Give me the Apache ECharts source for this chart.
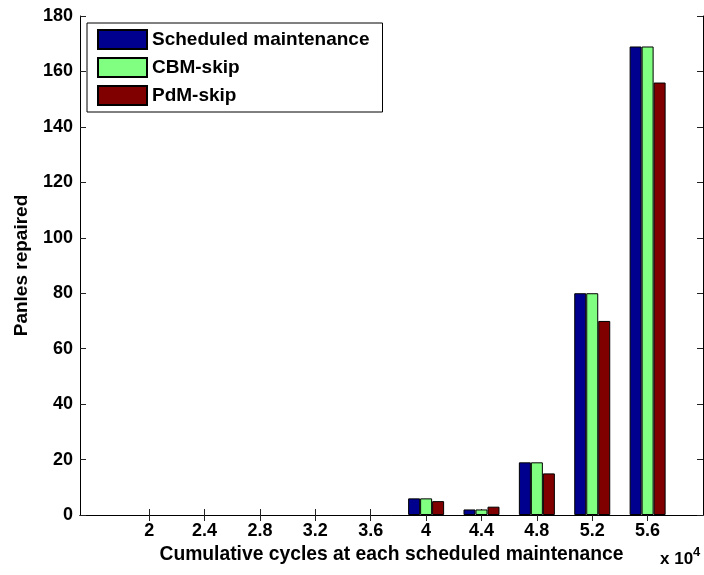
<!DOCTYPE html>
<html>
<head>
<meta charset="utf-8">
<script src="https://cdn.jsdelivr.net/npm/echarts@6/dist/echarts.min.js"></script>
<style>
html,body{margin:0;padding:0;background:#fff;}
#chart{width:704px;height:575px;}
</style>
</head>
<body>
<div id="chart"></div>
<script>
// ---- data ----
const categories = [2, 2.4, 2.8, 3.2, 3.6, 4, 4.4, 4.8, 5.2, 5.6];
const tickLabels = ['2', '2.4', '2.8', '3.2', '3.6', '4', '4.4', '4.8', '5.2', '5.6'];
const seriesNames = ['Scheduled maintenance', 'CBM-skip', 'PdM-skip'];
const scheduled = [0, 0, 0, 0, 0, 6, 2, 19, 80, 169];
const cbmSkip   = [0, 0, 0, 0, 0, 6, 2, 19, 80, 169];
const pdmSkip   = [0, 0, 0, 0, 0, 5, 3, 15, 70, 156];
const xMin = 1.5, xMax = 6.0;
const yMin = 0, yMax = 180, yStep = 20;

const FONT = 'Arial, "Liberation Sans", sans-serif';
const colors = ['#00008f', '#80ff80', '#800000'];

function pairs(vals) {
  return categories.map((c, i) => vals[i] === 0
    ? {value: [c, vals[i]], itemStyle: {borderWidth: 0, opacity: 0}}
    : {value: [c, vals[i]]});
}
function labelFor(v) {
  const i = categories.findIndex(c => Math.abs(c - v) < 1e-9);
  return i >= 0 ? tickLabels[i] : '';
}

const chart = echarts.init(document.getElementById('chart'), null, {renderer: 'canvas'});
const tickStyle = {show: true, inside: true, length: 6, lineStyle: {color: '#222', width: 1}};
const lineStyle = {show: true, lineStyle: {color: '#000', width: 1}};

const allSeries = [scheduled, cbmSkip, pdmSkip].map((vals, k) => ({
  name: seriesNames[k],
  type: 'bar',
  xAxisIndex: 0,
  yAxisIndex: 0,
  data: pairs(vals),
  barWidth: 12,
  barGap: '0%',
  itemStyle: {color: colors[k], borderColor: '#000', borderWidth: 1},
  emphasis: {disabled: true},
  animation: false
}));

chart.setOption({
  animation: false,
  backgroundColor: '#fff',
  textStyle: {fontFamily: FONT},
  grid: {left: 80, top: 16, right: 1, bottom: 60, containLabel: false},
  legend: {
    orient: 'vertical',
    left: 87, top: 23,
    padding: [6, 13, 6, 10],
    itemWidth: 49, itemHeight: 19, itemGap: 7,
    icon: 'rect',
    borderColor: '#000', borderWidth: 1,
    backgroundColor: '#fff',
    textStyle: {fontFamily: FONT, fontWeight: 'bold', fontSize: 19, lineHeight: 19, color: '#000'},
    data: seriesNames
  },
  xAxis: [{
    type: 'value', position: 'bottom', min: xMin, max: xMax,
    axisLine: lineStyle,
    axisTick: Object.assign({}, tickStyle, {customValues: categories}),
    axisLabel: {customValues: categories, formatter: v => labelFor(v), fontFamily: FONT, fontWeight: 'bold', fontSize: 18, color: '#000', margin: 7},
    splitLine: {show: false},
    name: 'Cumulative cycles at each scheduled maintenance',
    nameLocation: 'middle', nameGap: 29,
    nameTextStyle: {fontFamily: FONT, fontWeight: 'bold', fontSize: 19.3, color: '#000'}
  }, {
    type: 'value', position: 'top', min: xMin, max: xMax,
    axisLine: lineStyle,
    axisTick: Object.assign({}, tickStyle, {customValues: categories}),
    axisLabel: {show: false},
    splitLine: {show: false}
  }],
  yAxis: [{
    type: 'value', position: 'left', min: yMin, max: yMax, interval: yStep,
    axisLine: lineStyle,
    axisTick: tickStyle,
    axisLabel: {fontFamily: FONT, fontWeight: 'bold', fontSize: 18, color: '#000', margin: 7},
    splitLine: {show: false},
    name: 'Panles repaired',
    nameLocation: 'middle', nameGap: 49,
    nameTextStyle: {fontFamily: FONT, fontWeight: 'bold', fontSize: 19, color: '#000'}
  }, {
    type: 'value', position: 'right', min: yMin, max: yMax, interval: yStep,
    axisLine: lineStyle,
    axisTick: tickStyle,
    axisLabel: {show: false},
    splitLine: {show: false}
  }],
  graphic: [{
    type: 'text',
    left: 660, top: 546,
    style: {
      text: '{b|x 10}{s|4}',
      rich: {
        b: {fontFamily: FONT, fontWeight: 'bold', fontSize: 17, fill: '#000', verticalAlign: 'bottom', lineHeight: 22},
        s: {fontFamily: FONT, fontWeight: 'bold', fontSize: 13, fill: '#000', verticalAlign: 'top', padding: [0, 0, 10, 0], lineHeight: 22}
      }
    }
  }],
  series: allSeries
});
</script>
</body>
</html>
